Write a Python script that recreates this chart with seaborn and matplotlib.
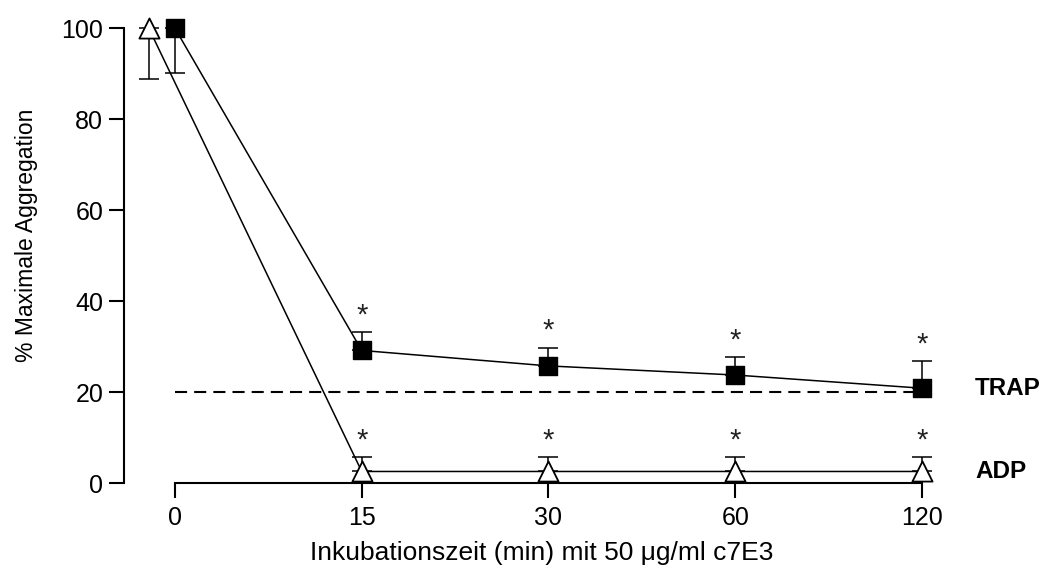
import numpy as np
import pandas as pd
import matplotlib
matplotlib.use("Agg")
import matplotlib.pyplot as plt
import seaborn as sns

# ---- data ----
times = ["0", "15", "30", "60", "120"]
trap_mean = [100.0, 29.2, 25.8, 23.8, 20.9]
trap_err = [9.8, 4.0, 4.0, 4.0, 6.0]
adp_mean = [100.0, 2.6, 2.6, 2.6, 2.6]
adp_err = [11.2, 3.1, 3.1, 3.1, 3.1]
err_direction = [-1, 1, 1, 1, 1]          # -1: bar drawn downward, +1: upward
significant = [False, True, True, True, True]
threshold = 20.0
series_labels = ["TRAP", "ADP"]

# styling (horizontal nudge of the ADP marker at t=0)
adp_nudge = [-0.14, 0, 0, 0, 0]

sns.set_theme(style="white")
plt.rcParams["font.family"] = ["Liberation Sans", "DejaVu Sans"]

fig = plt.figure(figsize=(10.41, 5.67), dpi=100)
ax = fig.add_axes([0.11912, 0.14762, 0.8383, 0.80247])

pos = np.arange(len(times), dtype=float)
df = pd.DataFrame({
    "pos": np.concatenate([pos, pos + np.array(adp_nudge)]),
    "value": trap_mean + adp_mean,
    "series": ["TRAP"] * len(times) + ["ADP"] * len(times),
})

lw = 1.1
# threshold dashed line
ax.plot([pos[0], pos[-1]], [threshold, threshold], color="black", lw=1.5,
        dashes=(5.8, 3.4), zorder=1)

# lines
sns.lineplot(data=df[df.series == "TRAP"], x="pos", y="value", color="black",
             lw=lw, ax=ax, zorder=2, legend=False, sort=False)
sns.lineplot(data=df[df.series == "ADP"], x="pos", y="value", color="black",
             lw=lw, ax=ax, zorder=2, legend=False, sort=False)


def draw_err(x, mean, err):
    mean = np.array(mean)
    err = np.array(err)
    d = np.array(err_direction)
    lower = np.where(d < 0, err, 0)
    upper = np.where(d > 0, err, 0)
    ax.errorbar(x, mean, yerr=[lower, upper], fmt="none", ecolor="black",
                elinewidth=lw, capsize=7, capthick=lw, zorder=3, clip_on=False)


draw_err(pos, trap_mean, trap_err)
draw_err(pos + np.array(adp_nudge), adp_mean, adp_err)

# markers
sns.scatterplot(x=pos, y=trap_mean, marker="s", s=13.3 ** 2, color="black",
                edgecolor="black", linewidth=1, ax=ax, zorder=5, clip_on=False)
sns.scatterplot(x=pos + np.array(adp_nudge), y=adp_mean, marker="^", s=14.5 ** 2,
                color="white", edgecolor="black", linewidth=1.3, ax=ax, zorder=5,
                clip_on=False)

# significance stars
for means, errs in [(trap_mean, trap_err), (adp_mean, adp_err)]:
    for i, sig in enumerate(significant):
        if sig:
            ax.annotate("*", xy=(pos[i], means[i] + errs[i]), xytext=(0, 12),
                        textcoords="offset points", ha="center", va="center",
                        fontsize=21, color="#222222")

# series labels
ax.text(pos[-1] + 0.285, trap_mean[-1], series_labels[0], fontsize=17.5,
        fontweight="bold", va="center", ha="left", color="black")
ax.text(pos[-1] + 0.285, adp_mean[-1], series_labels[1], fontsize=17.5,
        fontweight="bold", va="center", ha="left", color="black")

# axes
ax.set_xlim(-0.273, 4.4)
ax.set_ylim(0, 100)
ax.set_xticks(pos)
ax.set_xticklabels(times)
ax.set_yticks([0, 20, 40, 60, 80, 100])
for s in ["top", "right"]:
    ax.spines[s].set_visible(False)
ax.spines["bottom"].set_bounds(pos[0], pos[-1])
for s in ["left", "bottom"]:
    ax.spines[s].set_color("black")
    ax.spines[s].set_linewidth(1.5)
ax.tick_params(axis="both", which="major", direction="out", length=11, width=1.5,
               color="black", labelsize=18, labelcolor="black", pad=4,
               left=True, bottom=True)
ax.tick_params(axis="x", pad=5)
ax.set_xlabel("Inkubationszeit (min) mit 50 μg/ml c7E3", fontsize=19,
              color="black")
ax.set_ylabel("% Maximale Aggregation", fontsize=16.5, color="black")
ax.xaxis.set_label_coords(0.479, -0.153)
ax.yaxis.set_label_coords(-0.112, 0.546)
ax.xaxis.label.set_va("center")
ax.yaxis.label.set_va("center")
ax.grid(False)

fig.savefig("out.png", dpi=100)
